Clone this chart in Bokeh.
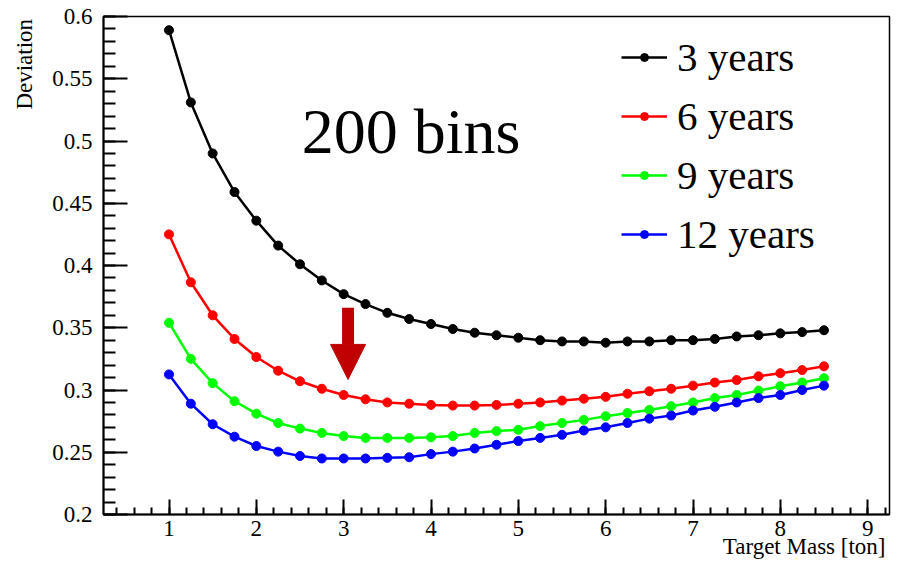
import numpy as np
from bokeh.plotting import figure
from bokeh.models import Range1d, FixedTicker, Label, Legend, LegendItem, Arrow, NormalHead, NumeralTickFormatter
from bokeh.embed import file_html
from bokeh.resources import INLINE

# ---------------- data ----------------
mass = [1.0, 1.25, 1.5, 1.75, 2.0, 2.25, 2.5, 2.75, 3.0, 3.25, 3.5, 3.75, 4.0, 4.25, 4.5, 4.75,
        5.0, 5.25, 5.5, 5.75, 6.0, 6.25, 6.5, 6.75, 7.0, 7.25, 7.5, 7.75, 8.0, 8.25, 8.5]

dev_3y = [0.589, 0.531, 0.490, 0.459, 0.436, 0.416, 0.401, 0.388, 0.377, 0.369, 0.362, 0.357,
          0.353, 0.349, 0.346, 0.344, 0.342, 0.340, 0.339, 0.339, 0.338, 0.339, 0.339, 0.340,
          0.340, 0.341, 0.343, 0.344, 0.3455, 0.3465, 0.348]
dev_6y = [0.425, 0.3865, 0.360, 0.341, 0.3265, 0.3155, 0.307, 0.301, 0.296, 0.2925, 0.290, 0.289,
          0.288, 0.2875, 0.2875, 0.288, 0.289, 0.290, 0.2915, 0.293, 0.2945, 0.297, 0.299, 0.301,
          0.3035, 0.306, 0.308, 0.311, 0.3135, 0.316, 0.319]
dev_9y = [0.354, 0.325, 0.3055, 0.291, 0.281, 0.2735, 0.269, 0.2655, 0.263, 0.2615, 0.2615, 0.2615,
          0.262, 0.263, 0.2655, 0.267, 0.268, 0.271, 0.2735, 0.276, 0.279, 0.2815, 0.284, 0.287,
          0.290, 0.2935, 0.296, 0.2995, 0.303, 0.306, 0.3095]
dev_12y = [0.3125, 0.289, 0.2725, 0.2625, 0.255, 0.2505, 0.247, 0.245, 0.245, 0.245, 0.2455, 0.246,
           0.2485, 0.2505, 0.253, 0.256, 0.259, 0.2615, 0.264, 0.2675, 0.270, 0.2735, 0.277, 0.2795,
           0.2835, 0.2865, 0.290, 0.2935, 0.296, 0.300, 0.3035]

series_labels = ["3 years", "6 years", "9 years", "12 years"]
series_values = [dev_3y, dev_6y, dev_9y, dev_12y]
series_colors = ["#000000", "#ff0000", "#00ff00", "#0000ff"]

x_ticks = [1, 2, 3, 4, 5, 6, 7, 8, 9]
y_ticks = [0.2, 0.25, 0.3, 0.35, 0.4, 0.45, 0.5, 0.55, 0.6]

annotation_text = "200 bins"
x_title = "Target Mass [ton]"
y_title = "Deviation"

FONT = "'Liberation Serif', 'Times New Roman', serif"
NBSP = "\u00a0"

p = figure(width=903, height=567,
           x_range=Range1d(0.25, 9.25), y_range=Range1d(0.2, 0.6),
           output_backend="svg", toolbar_location=None,
           min_border_left=103, min_border_right=14,
           min_border_top=16, min_border_bottom=53)

p.grid.visible = False
p.outline_line_color = "black"
p.outline_line_width = 1.5
p.background_fill_color = "white"
p.border_fill_color = "white"

# axes
xa = p.xaxis[0]
xa.ticker = FixedTicker(ticks=x_ticks,
                        minor_ticks=list(np.round(np.arange(0.4, 9.25, 0.2), 2)))
xa.major_tick_in = 15
xa.major_tick_out = 0
xa.minor_tick_in = 7
xa.minor_tick_out = 0
xa.axis_line_width = 2
xa.major_tick_line_width = 2
xa.minor_tick_line_width = 2
xa.major_label_text_font = FONT
xa.major_label_text_font_size = "23px"
xa.major_label_text_color = "black"
xa.major_label_standoff = 6
# title pushed towards the right end of the axis (ROOT style) with leading no-break spaces
xa.axis_label = NBSP * 107 + x_title
xa.axis_label_text_font = FONT
xa.axis_label_text_font_size = "23px"
xa.axis_label_text_font_style = "normal"
xa.axis_label_text_color = "black"
xa.axis_label_standoff = -5

ya = p.yaxis[0]
ya.ticker = FixedTicker(ticks=y_ticks,
                        minor_ticks=list(np.round(np.arange(0.2, 0.601, 0.01), 2)))
ya.formatter = NumeralTickFormatter(format="0.[00]")
ya.major_tick_in = 24
ya.major_tick_out = 0
ya.minor_tick_in = 12
ya.minor_tick_out = 0
ya.axis_line_width = 2
ya.major_tick_line_width = 2
ya.minor_tick_line_width = 2
ya.major_label_text_font = FONT
ya.major_label_text_font_size = "23px"
ya.major_label_text_color = "black"
ya.major_label_standoff = 11
# title pushed towards the top end of the axis with leading no-break spaces
ya.axis_label = NBSP * 70 + y_title
ya.axis_label_text_font = FONT
ya.axis_label_text_font_size = "23px"
ya.axis_label_text_font_style = "normal"
ya.axis_label_text_color = "black"
ya.axis_label_standoff = 12

# series
items = []
for lab, vals, col in zip(series_labels, series_values, series_colors):
    r1 = p.line(mass, vals, line_color=col, line_width=2.5)
    r2 = p.scatter(mass, vals, size=9, fill_color=col, line_color=col)
    items.append(LegendItem(label=lab, renderers=[r1, r2]))

legend = Legend(items=items, location=(518, 256),
                label_text_font=FONT, label_text_font_size="41px",
                label_text_color="black",
                glyph_width=46, glyph_height=20, label_height=20,
                label_standoff=10, spacing=11, padding=0, margin=0,
                border_line_color=None, background_fill_alpha=0)
p.add_layout(legend)

# text annotation inside the frame
p.add_layout(Label(x=2.52, y=0.508, text=annotation_text, text_font=FONT,
                   text_font_size="64px", text_color="black",
                   text_baseline="alphabetic", text_align="left"))

# arrow annotation
arrow_x = 3.05
arrow_y_start = 0.366
arrow_y_end = 0.3085
p.add_layout(Arrow(end=NormalHead(size=35, fill_color="#c00000", line_color="#c00000"),
                   x_start=arrow_x, y_start=arrow_y_start, x_end=arrow_x, y_end=arrow_y_end,
                   line_color="#c00000", line_width=12))

open("out.html", "w").write(file_html(p, INLINE))
